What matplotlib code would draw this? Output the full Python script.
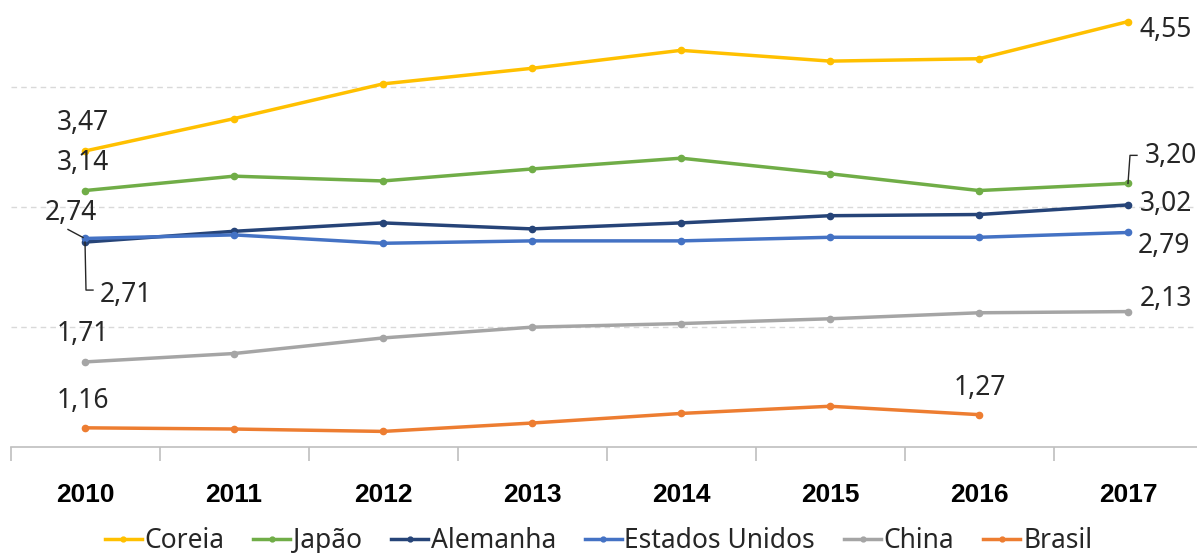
import numpy as np
import matplotlib
matplotlib.use("Agg")
import matplotlib.pyplot as plt
from matplotlib.lines import Line2D

plt.rcParams['font.family'] = ['Noto Sans', 'DejaVu Sans']

#------------------------------------------------------------------------------
years = ['2010', '2011', '2012', '2013', '2014', '2015', '2016', '2017']

coreia = [3.47, 3.74, 4.03, 4.16, 4.31, 4.22, 4.24, 4.55]
japao = [3.14, 3.26, 3.22, 3.32, 3.41, 3.28, 3.14, 3.20]
alemanha = [2.71, 2.80, 2.87, 2.82, 2.87, 2.93, 2.94, 3.02]
eua = [2.74, 2.77, 2.70, 2.72, 2.72, 2.75, 2.75, 2.79]
china = [1.71, 1.78, 1.91, 2.00, 2.03, 2.07, 2.12, 2.13]
brasil = [1.16, 1.15, 1.13, 1.20, 1.28, 1.34, 1.27, np.nan]

series_names = ['Coreia', 'Japão', 'Alemanha', 'Estados Unidos', 'China', 'Brasil']
series_values = [coreia, japao, alemanha, eua, china, brasil]
colors = ['#FFC000', '#70AD47', '#264478', '#4472C4', '#A5A5A5', '#ED7D31']

# (series index, year index, label, pixel offset, ha, leader path in pixel offsets)
labels = [
    (0, 0, '3,47', (-2, 28), 'center', None),
    (0, 7, '4,55', (12, -8), 'left', None),
    (1, 0, '3,14', (-2, 28), 'center', None),
    (1, 7, '3,20', (17, 27), 'left', [(0, 0), (2, 28), (9, 28)]),
    (3, 0, '2,74', (-14, 25), 'center', [(-17, 9), (-2, 1)]),
    (2, 0, '2,71', (15, -53), 'left', [(0, 0), (1, -48), (8, -48)]),
    (2, 7, '3,02', (12, 1), 'left', None),
    (3, 7, '2,79', (10, -14), 'left', None),
    (4, 7, '2,13', (12, 13), 'left', None),
    (4, 0, '1,71', (-2, 28), 'center', None),
    (5, 0, '1,16', (-2, 27), 'center', None),
    (5, 6, '1,27', (1, 27), 'center', None),
]

#------------------------------------------------------------------------------
W, H = 1197, 553
fig = plt.figure(figsize=(W / 100, H / 100), dpi=100)
ax = fig.add_axes([10.5 / W, (H - 447) / H, 1192 / W, 447 / H])

x = np.arange(len(years))
for name, vals, col in zip(series_names, series_values, colors):
    ax.plot(x, vals, color=col, lw=2.5, marker='o', ms=4.5, label=name,
            solid_capstyle='round', zorder=3)

ax.set_xlim(-0.5, 7.5)
ax.set_ylim(1.0, 4.73)

for g in [2, 3, 4]:
    ax.axhline(g, color='#D9D9D9', lw=1, ls=(0, (4, 3)), zorder=1)

for s in ['left', 'right', 'top']:
    ax.spines[s].set_visible(False)
ax.spines['bottom'].set_color('#BFBFBF')
ax.spines['bottom'].set_linewidth(1.2)
ax.set_yticks([])

ax.set_xticks(x)
ax.set_xticklabels(years, fontsize=19, fontweight='bold', family=['Liberation Sans', 'DejaVu Sans'])
ax.tick_params(axis='x', which='major', length=0, pad=26)
ax.set_xticks(np.arange(-0.5, 8, 1), minor=True)
ax.tick_params(axis='x', which='minor', length=10, color='#BFBFBF', width=1.2)

fig.canvas.draw()
to_disp = ax.transData
to_data = ax.transData.inverted()

for si, yi, txt, off, ha, path in labels:
    yv = series_values[si][yi]
    ax.annotate(txt, (x[yi], yv), xytext=off, textcoords='offset pixels',
                ha=ha, va='center', fontsize=19, color='#262626', zorder=5)
    if path is not None:
        px, py = to_disp.transform((x[yi], yv))
        pts = [to_data.transform((px + dx, py + dy)) for dx, dy in path]
        pts = np.array(pts)
        ax.plot(pts[:, 0], pts[:, 1], color='#262626', lw=1, zorder=4)

handles = [Line2D([], [], color=c, lw=2.5, marker='o', ms=3.5) for c in colors]
fig.legend(handles, series_names, loc='upper center', bbox_to_anchor=(0.5, (H - 503) / H),
           ncol=6, frameon=False, fontsize=19, handlelength=1.4, handletextpad=0.1,
           columnspacing=1.1, labelcolor='#262626')

fig.savefig('out.png', dpi=100)
